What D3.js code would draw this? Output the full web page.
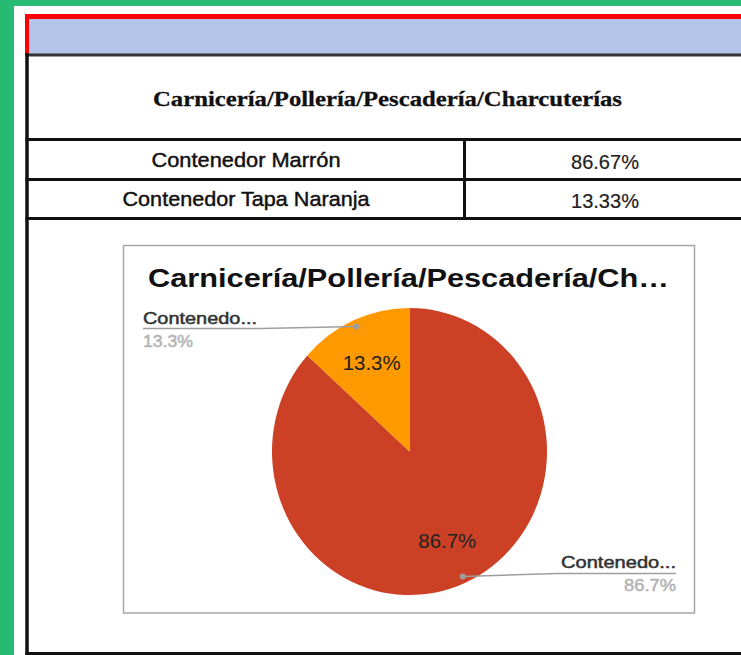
<!DOCTYPE html>
<html>
<head>
<meta charset="utf-8">
<script src="https://cdn.jsdelivr.net/npm/d3@7"></script>
<style>
  html, body { margin: 0; padding: 0; background: #27ba73; }
  svg { display: block; }
</style>
</head>
<body>
<svg id="chart" width="741" height="655"></svg>
<script>
// ---------- data ----------
const tableTitle = "Carnicería/Pollería/Pescadería/Charcuterías";
const categories = ["Contenedor Marrón", "Contenedor Tapa Naranja"];
const tableValues = ["86.67%", "13.33%"];
const values = [86.67, 13.33];
const sliceLabels = ["86.7%", "13.3%"];
const shortNames = ["Contenedo...", "Contenedo..."];
const chartTitle = "Carnicería/Pollería/Pescadería/Ch…";
const colors = ["#cc4125", "#ff9900"];

// ---------- layout ----------
const svg = d3.select("#chart");
const W = 741, H = 655;

function fit(sel, w) {
  sel.attr("textLength", w).attr("lengthAdjust", "spacingAndGlyphs");
  return sel;
}

// green background + white panel
svg.append("rect").attr("x", 0).attr("y", 0).attr("width", W).attr("height", H).attr("fill", "#27ba73");
svg.append("rect").attr("x", 14).attr("y", 6).attr("width", W - 14).attr("height", H - 6).attr("fill", "#ffffff");

// header band (blue with red border)
svg.append("rect").attr("x", 27).attr("y", 16.5).attr("width", W - 27).attr("height", 38).attr("fill", "#b4c6e7");
svg.append("line").attr("x1", 25).attr("x2", W).attr("y1", 16.5).attr("y2", 16.5)
  .attr("stroke", "#ff0000").attr("stroke-width", 5);
svg.append("line").attr("x1", 27).attr("x2", 27).attr("y1", 14).attr("y2", 55)
  .attr("stroke", "#ff0000").attr("stroke-width", 4);

// table lines
const lineColor = "#111111";
[[55, 3], [139.5, 3], [179.5, 3], [218.5, 3], [653.5, 3]].forEach(([y, w]) => {
  svg.append("line").attr("x1", 25.5).attr("x2", W).attr("y1", y).attr("y2", y)
    .attr("stroke", y === 55 ? "#333" : lineColor).attr("stroke-width", w);
});
svg.append("line").attr("x1", 27).attr("x2", 27).attr("y1", 53).attr("y2", H)
  .attr("stroke", lineColor).attr("stroke-width", 3.5);
svg.append("line").attr("x1", 464.5).attr("x2", 464.5).attr("y1", 138).attr("y2", 220)
  .attr("stroke", lineColor).attr("stroke-width", 3);

// table title
fit(svg.append("text")
  .attr("x", 387.5).attr("y", 106)
  .attr("text-anchor", "middle")
  .attr("font-family", "'Liberation Serif', 'Times New Roman', serif")
  .attr("font-weight", "bold").attr("font-size", 22)
  .attr("fill", "#111").attr("stroke", "#111").attr("stroke-width", 0.3)
  .text(tableTitle), 469);

// table rows
const rowBase = d3.scaleOrdinal().domain(categories).range([167, 206]);
const catWidths = [189, 247];
categories.forEach((c, i) => {
  fit(svg.append("text")
    .attr("x", 246).attr("y", rowBase(c))
    .attr("text-anchor", "middle")
    .attr("font-family", "'Liberation Sans', Arial, sans-serif")
    .attr("font-size", 20.5).attr("fill", "#111")
    .attr("stroke", "#111").attr("stroke-width", 0.45)
    .text(c), catWidths[i]);
  fit(svg.append("text")
    .attr("x", 605).attr("y", rowBase(c) + 2)
    .attr("text-anchor", "middle")
    .attr("font-family", "'Liberation Sans', Arial, sans-serif")
    .attr("font-size", 20).attr("fill", "#222")
    .attr("stroke", "#222").attr("stroke-width", 0.2)
    .text(tableValues[i]), 68);
});

// chart box
const box = { x: 123.5, y: 245.5, w: 571, h: 367.5 };
svg.append("rect").attr("x", box.x).attr("y", box.y).attr("width", box.w).attr("height", box.h)
  .attr("fill", "#fff").attr("stroke", "#a6a6a6").attr("stroke-width", 1.5);

fit(svg.append("text")
  .attr("x", 148).attr("y", 287)
  .attr("font-family", "'Liberation Sans', Arial, sans-serif")
  .attr("font-weight", "bold").attr("font-size", 26.5)
  .attr("fill", "#111")
  .text(chartTitle), 521);

// pie
const cx = 409.5, cy = 451.5, R = 137.5, sy = 1.044;
const pie = d3.pie().sort(null).value(d => d)(values);
const arc = d3.arc().innerRadius(0).outerRadius(R);
const labelArc = d3.arc().innerRadius(93).outerRadius(93);
const dotArc = d3.arc().innerRadius(131).outerRadius(131);

const g = svg.append("g").attr("transform", `translate(${cx},${cy}) scale(1,${sy})`);
g.selectAll("path.slice").data(pie).join("path")
  .attr("class", "slice")
  .attr("d", arc)
  .attr("fill", (d, i) => colors[i]);

// slice labels
pie.forEach((d, i) => {
  const [lx, ly] = labelArc.centroid(d);
  fit(svg.append("text")
    .attr("x", cx + lx).attr("y", cy + ly * sy + 7.5)
    .attr("text-anchor", "middle")
    .attr("font-family", "'Liberation Sans', Arial, sans-serif")
    .attr("font-size", 21).attr("fill", "#222")
    .text(sliceLabels[i]), 58);
});

// leader labels
const leaderCfg = [
  { anchorX: 676, side: "end", dy: -3, tw: 115, vw: 52 },
  { anchorX: 143, side: "start", dy: 2, tw: 114, vw: 50 }
];
pie.forEach((d, i) => {
  const [dx, dyv] = dotArc.centroid(d);
  const px = cx + dx, py = cy + dyv * sy;
  const cfg = leaderCfg[i];
  const ly = py + cfg.dy;
  const bendX = cfg.side === "end" ? px + 95 : px - 95;
  svg.append("path")
    .attr("d", `M${px},${py} L${bendX},${ly} L${cfg.anchorX},${ly}`)
    .attr("fill", "none").attr("stroke", "#9e9e9e").attr("stroke-width", 1.5);
  svg.append("circle").attr("cx", px).attr("cy", py).attr("r", 3).attr("fill", "#9e9e9e");
  fit(svg.append("text")
    .attr("x", cfg.anchorX).attr("y", ly - 5)
    .attr("text-anchor", cfg.side)
    .attr("font-family", "'Liberation Sans', Arial, sans-serif")
    .attr("font-size", 16.5)
    .attr("fill", "#333").attr("stroke", "#333").attr("stroke-width", 0.5)
    .text(shortNames[i]), cfg.tw);
  fit(svg.append("text")
    .attr("x", cfg.anchorX).attr("y", ly + 18)
    .attr("text-anchor", cfg.side)
    .attr("font-family", "'Liberation Sans', Arial, sans-serif")
    .attr("font-size", 16.5)
    .attr("fill", "#b3b3b3").attr("stroke", "#b3b3b3").attr("stroke-width", 0.5)
    .text(sliceLabels[i]), cfg.vw);
});
</script>
</body>
</html>
